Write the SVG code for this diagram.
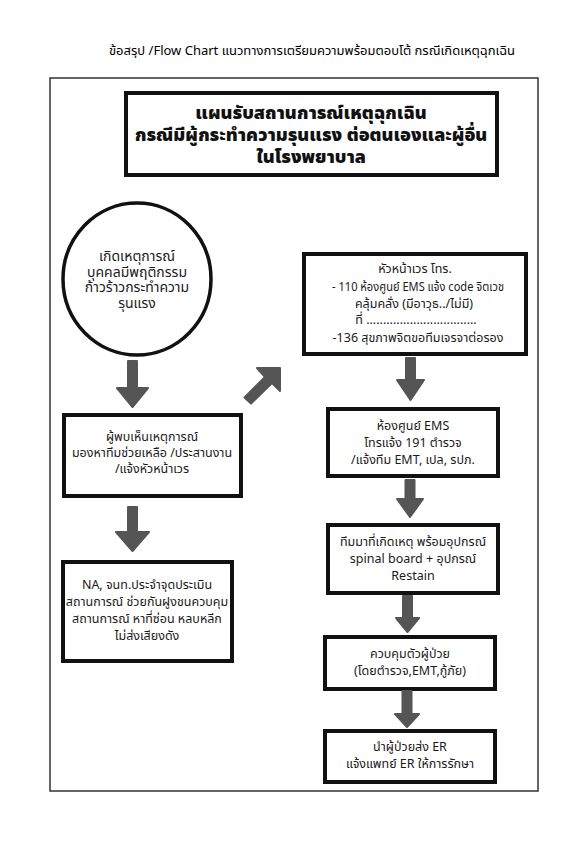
<svg xmlns="http://www.w3.org/2000/svg" width="586" height="846" viewBox="0 0 586 846">
<style>
.t{font-family:"Noto Sans Thai","Noto Sans","DejaVu Sans",sans-serif;font-size:12.5px;fill:#1a1a1a;text-anchor:middle}
.c{font-size:14px}
.h{font-family:"Noto Sans Thai","Noto Sans","DejaVu Sans",sans-serif;font-size:18px;font-weight:900;fill:#111;text-anchor:middle}
.b{fill:#fff;stroke:#111;stroke-width:4}
.a{fill:#555;stroke:#555;stroke-width:2;stroke-linejoin:round}
</style>
<rect width="586" height="846" fill="#fff"/>
<text class="t" x="312" y="55" style="font-size:13px;fill:#000">ข้อสรุป /Flow Chart แนวทางการเตรียมความพร้อมตอบโต้ กรณีเกิดเหตุฉุกเฉิน</text>
<rect x="50" y="78" width="488" height="713" fill="none" stroke="#333" stroke-width="1.5"/>
<g id="header">
<rect class="b" x="126" y="93" width="371" height="82" stroke-width="3.5"/>
<text class="h" x="311" y="119">แผนรับสถานการณ์เหตุฉุกเฉิน</text>
<text class="h" x="311" y="141">กรณีมีผู้กระทำความรุนแรง ต่อตนเองและผู้อื่น</text>
<text class="h" x="311" y="163">ในโรงพยาบาล</text>
</g>
<g id="start">
<ellipse cx="137" cy="279" rx="74" ry="76" fill="#fff" stroke="#111" stroke-width="3.5"/>
<text class="t c" x="137" y="261">เกิดเหตุการณ์</text>
<text class="t c" x="137" y="276.5">บุคคลมีพฤติกรรม</text>
<text class="t c" x="137" y="292">ก้าวร้าวกระทำความ</text>
<text class="t c" x="137" y="307.5">รุนแรง</text>
</g>
<g id="witness">
<rect class="b" x="64" y="415" width="177" height="81"/>
<text class="t" x="152" y="441">ผู้พบเห็นเหตุการณ์</text>
<text class="t" x="152" y="457">มองหาทีมช่วยเหลือ /ประสานงาน</text>
<text class="t" x="152" y="473">/แจ้งหัวหน้าเวร</text>
</g>
<g id="na">
<rect class="b" x="63" y="562" width="169" height="99" stroke-width="2.5"/>
<text class="t" x="147" y="589">NA, จนท.ประจำจุดประเมิน</text>
<text class="t" x="147" y="606">สถานการณ์ ช่วยกันฝูงชนควบคุม</text>
<text class="t" x="147" y="623">สถานการณ์ หาที่ซ่อน หลบหลีก</text>
<text class="t" x="147" y="640">ไม่ส่งเสียงดัง</text>
</g>
<g id="head-nurse">
<rect class="b" x="304" y="254" width="222" height="100"/>
<text class="t" x="415" y="273">หัวหน้าเวร โทร.</text>
<text class="t" x="418" y="291" textLength="172" lengthAdjust="spacingAndGlyphs">- 110 ห้องศูนย์ EMS แจ้ง code จิตเวช</text>
<text class="t" x="414" y="308">คลุ้มคลั่ง (มีอาวุธ../ไม่มี)</text>
<text class="t" x="416" y="324">ที่ .................................</text>
<text class="t" x="418" y="342">-136 สุขภาพจิตขอทีมเจรจาต่อรอง</text>
</g>
<g id="ems">
<rect class="b" x="328" y="409" width="170" height="67"/>
<text class="t" x="413" y="430">ห้องศูนย์ EMS</text>
<text class="t" x="413" y="447">โทรแจ้ง 191 ตำรวจ</text>
<text class="t" x="413" y="464">/แจ้งทีม EMT, เปล, รปภ.</text>
</g>
<g id="team">
<rect class="b" x="328" y="525" width="170" height="68"/>
<text class="t" x="413" y="546">ทีมมาที่เกิดเหตุ พร้อมอุปกรณ์</text>
<text class="t" x="413" y="563">spinal board + อุปกรณ์</text>
<text class="t" x="413" y="580">Restain</text>
</g>
<g id="control">
<rect class="b" x="325" y="637" width="170" height="52"/>
<text class="t" x="410" y="658">ควบคุมตัวผู้ป่วย</text>
<text class="t" x="410" y="675">(โดยตำรวจ,EMT,กู้ภัย)</text>
</g>
<g id="er">
<rect class="b" x="325" y="731" width="170" height="51"/>
<text class="t" x="410" y="751">นำผู้ป่วยส่ง ER</text>
<text class="t" x="410" y="768">แจ้งแพทย์ ER ให้การรักษา</text>
</g>
<g id="connectors">
<path class="a" d="M128,361 H137 V388 H148 L132.5,407 L117,388 H128 Z"/>
<path class="a" d="M128,507 H137 V532 H149 L132.5,551 L116,532 H128 Z"/>
<path class="a" d="M244.5,397.5 L265,377 L257,368 H280 V391 L272,383 L251,403.5 Z"/>
<path class="a" d="M406,358 H415 V380 H424 L410.5,400 L397,380 H406 Z"/>
<path class="a" d="M405.5,480 H414.5 V499 H423 L410,517 L397,499 H405.5 Z"/>
<path class="a" d="M403,596 H412 V618 H419 L407.5,632 L396,618 H403 Z"/>
<path class="a" d="M402.5,691 H411.5 V714 H419 L407,727 L395,714 H402.5 Z"/>
</g>
</svg>
